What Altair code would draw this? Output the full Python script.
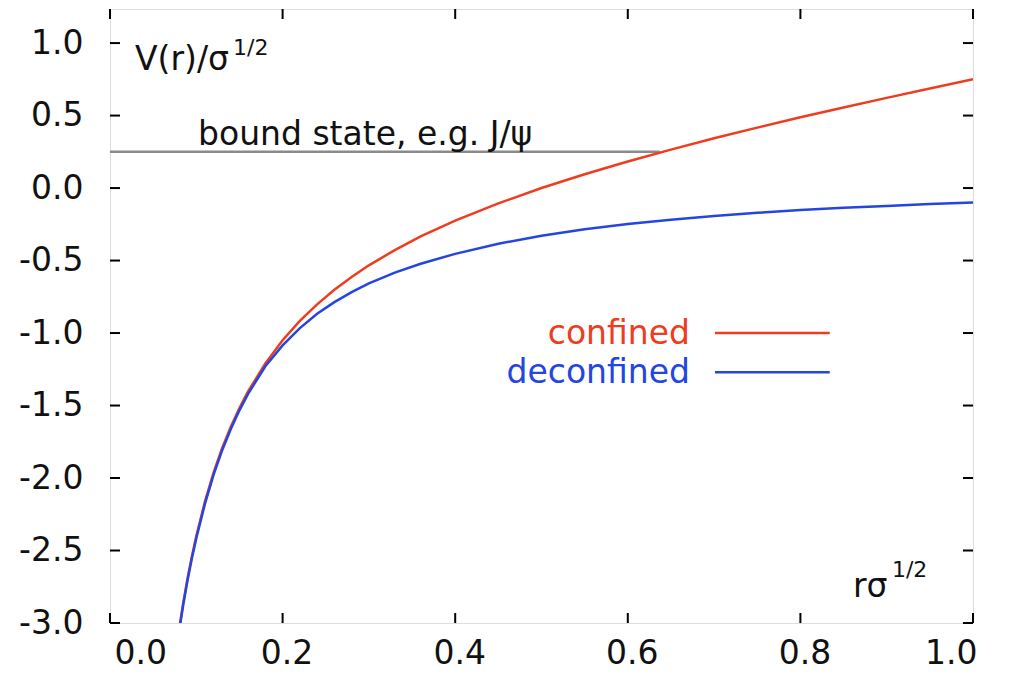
import altair as alt
import pandas as pd

# radius r*sigma^(1/2)
r_vals = [0.080, 0.085, 0.090, 0.095, 0.10, 0.11, 0.12, 0.13, 0.14, 0.15, 0.16,
          0.18, 0.20, 0.22, 0.24, 0.26, 0.28, 0.30, 0.33, 0.36, 0.40, 0.45,
          0.50, 0.55, 0.60, 0.65, 0.70, 0.75, 0.80, 0.85, 0.90, 0.95, 1.00]
# V(r)/sigma^(1/2), confined
confined = [-3.045, -2.856, -2.688, -2.537, -2.400, -2.163, -1.963, -1.793, -1.646,
            -1.517, -1.403, -1.209, -1.050, -0.916, -0.802, -0.702, -0.613, -0.533,
            -0.428, -0.334, -0.225, -0.106, 0.000, 0.095, 0.183, 0.265, 0.343,
            0.417, 0.488, 0.556, 0.622, 0.687, 0.750]
# V(r)/sigma^(1/2), deconfined
deconfined = [-3.060, -2.870, -2.700, -2.550, -2.415, -2.178, -1.978, -1.808, -1.662,
              -1.533, -1.420, -1.229, -1.085, -0.966, -0.867, -0.787, -0.718, -0.658,
              -0.583, -0.522, -0.454, -0.384, -0.329, -0.284, -0.248, -0.218, -0.192,
              -0.171, -0.152, -0.136, -0.123, -0.110, -0.100]
# bound state level
bound_x = [0.0, 0.637]
bound_y = [0.25, 0.25]

x_ticks = [0.0, 0.2, 0.4, 0.6, 0.8, 1.0]
y_ticks = [-3.0, -2.5, -2.0, -1.5, -1.0, -0.5, 0.0, 0.5, 1.0]

RED = "#f03c1e"
BLUE = "#2446e0"
FONT = "DejaVu Sans"
FS = 33
W, H = 863, 614

xs = alt.Scale(domain=[0, 1], nice=False, zero=False)
ys = alt.Scale(domain=[-3, 1.235], nice=False, zero=False)

df = pd.DataFrame({
    "r": r_vals * 2,
    "V": confined + deconfined,
    "s": ["confined"] * len(r_vals) + ["deconfined"] * len(r_vals),
})
bdf = pd.DataFrame({"r": bound_x, "V": bound_y})
xt = pd.DataFrame({"t": x_ticks})
yt = pd.DataFrame({"t": y_ticks})

LBL = "(datum.value < 0 ? '-' : '') + format(abs(datum.value), '.1f')"

x_axis = alt.Axis(values=x_ticks, labelExpr=LBL, ticks=False, domain=False, grid=False,
                  labelFont=FONT, labelFontSize=FS, labelColor="#111", labelPadding=14,
                  labelOffset=4, title=None)
y_axis = alt.Axis(values=y_ticks, labelExpr=LBL, ticks=False, domain=False, grid=False,
                  labelFont=FONT, labelFontSize=FS, labelColor="#111", labelPadding=27,
                  title=None)

curves = alt.Chart(df).mark_line(strokeWidth=2.5, clip=True).encode(
    x=alt.X("r:Q", scale=xs, axis=x_axis),
    y=alt.Y("V:Q", scale=ys, axis=y_axis),
    color=alt.Color("s:N", scale=alt.Scale(domain=["confined", "deconfined"], range=[RED, BLUE]),
                    legend=None),
    detail="s:N",
)

bound = alt.Chart(bdf).mark_line(color="#8a8a8a", strokeWidth=2.5).encode(
    x=alt.X("r:Q", scale=xs), y=alt.Y("V:Q", scale=ys))

tick_style = dict(color="black", strokeWidth=2)
bottom_ticks = alt.Chart(xt).mark_rule(**tick_style).encode(
    x=alt.X("t:Q", scale=xs), y=alt.value(H), y2=alt.value(H - 10))
top_ticks = alt.Chart(xt).mark_rule(**tick_style).encode(
    x=alt.X("t:Q", scale=xs), y=alt.value(0), y2=alt.value(10))
left_ticks = alt.Chart(yt).mark_rule(**tick_style).encode(
    y=alt.Y("t:Q", scale=ys), x=alt.value(0), x2=alt.value(10))
right_ticks = alt.Chart(yt).mark_rule(**tick_style).encode(
    y=alt.Y("t:Q", scale=ys), x=alt.value(W), x2=alt.value(W - 10))


def txt(text, x, y, size=FS, color="#111", align="left", baseline="alphabetic"):
    return alt.Chart(pd.DataFrame({"a": [0]})).mark_text(
        text=text, font=FONT, fontSize=size, color=color, align=align, baseline=baseline
    ).encode(x=alt.datum(x, scale=xs), y=alt.datum(y, scale=ys))


labels = [
    txt("V(r)/σ", 0.029, 0.816),
    txt("1/2", 0.1425, 0.92, size=22),
    txt("bound state, e.g. J/ψ", 0.102, 0.298),
    txt("rσ", 0.861, -2.822),
    txt("1/2", 0.906, -2.685, size=22),
    txt("confined", 0.672, -1.01, color=RED, align="right", baseline="middle"),
    txt("deconfined", 0.672, -1.276, color=BLUE, align="right", baseline="middle"),
]

leg_df = pd.DataFrame({"x1": [0.701, 0.701], "x2": [0.834, 0.834], "y": [-1.0, -1.27],
                       "s": ["confined", "deconfined"]})
leg_lines = alt.Chart(leg_df).mark_rule(strokeWidth=2.5).encode(
    x=alt.X("x1:Q", scale=xs), x2="x2:Q", y=alt.Y("y:Q", scale=ys),
    color=alt.Color("s:N", scale=alt.Scale(domain=["confined", "deconfined"], range=[RED, BLUE]),
                    legend=None),
)

chart = alt.layer(
    bound, curves, leg_lines, bottom_ticks, top_ticks, left_ticks, right_ticks, *labels
).properties(
    width=W, height=H,
    autosize=alt.AutoSizeParams(type="none"),
    padding={"left": 102, "top": 1, "right": 45, "bottom": 50},
).configure_view(
    stroke="black", strokeWidth=2
).configure(background="white")

chart.save("out.html", embed_options={"renderer": "svg", "actions": False})
